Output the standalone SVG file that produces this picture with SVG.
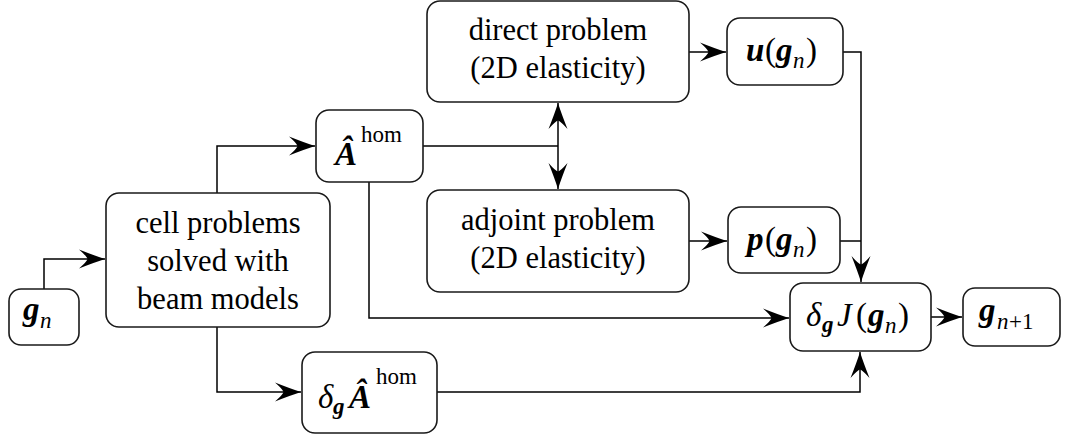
<svg xmlns="http://www.w3.org/2000/svg" width="1065" height="437" viewBox="0 0 1065 437">
<style>
.box{fill:#fff;stroke:#1a1a1a;stroke-width:1.6}
.t{font-size:30.5px;fill:#000;text-anchor:middle}
.m{font-size:33px;fill:#000}
.bi{font-weight:bold;font-style:italic}
.it{font-style:italic}
.s{font-size:23px}
.c{fill:none;stroke:#000;stroke-width:1.5}
</style>
<defs>
<marker id="ah" markerUnits="userSpaceOnUse" viewBox="-27 -11 28 22" refX="0" refY="0" markerWidth="28" markerHeight="22" orient="auto">
<path d="M0,0 Q-11,-3.5 -26,-9.5 Q-18,-2.5 -17.5,0 Q-18,2.5 -26,9.5 Q-11,3.5 0,0 Z" fill="#000"/>
</marker>
</defs>
<g id="connectors">
<path class="c" d="M44,289 V259 H105" marker-end="url(#ah)"/>
<path class="c" d="M217,193 V146 H315" marker-end="url(#ah)"/>
<path class="c" d="M423,146 H558"/>
<path class="c" d="M558,146 V103" marker-end="url(#ah)"/>
<path class="c" d="M558,146 V189" marker-end="url(#ah)"/>
<path class="c" d="M369,182 V318 H789" marker-end="url(#ah)"/>
<path class="c" d="M217,327 V392 H301" marker-end="url(#ah)"/>
<path class="c" d="M437,392 H860 V352" marker-end="url(#ah)"/>
<path class="c" d="M689,52 H726" marker-end="url(#ah)"/>
<path class="c" d="M689,241 H727" marker-end="url(#ah)"/>
<path class="c" d="M843,52 H861 V282" marker-end="url(#ah)"/>
<path class="c" d="M840,241 H861"/>
<path class="c" d="M931,317 H962" marker-end="url(#ah)"/>
</g>
<g font-family="Liberation Serif, DejaVu Serif, serif">
<g id="gn">
<rect class="box" x="9" y="289" width="70" height="56" rx="12"/>
<text class="m bi" font-family="Liberation Serif" x="23" y="320">g</text>
<text class="m it s" font-family="Liberation Serif" x="40" y="328">n</text>
</g>
<g id="cell">
<rect class="box" x="106" y="193" width="224" height="134" rx="13"/>
<text class="t" font-family="Liberation Serif" x="218" y="233">cell problems</text>
<text class="t" font-family="Liberation Serif" x="218" y="271">solved with</text>
<text class="t" font-family="Liberation Serif" x="218" y="309">beam models</text>
</g>
<g id="Ahom">
<rect class="box" x="316" y="110" width="107" height="72" rx="13"/>
<text class="m bi" font-family="Liberation Serif" x="335" y="165">Â</text>
<text class="m s" font-family="Liberation Serif" x="361" y="142">hom</text>
</g>
<g id="direct">
<rect class="box" x="427" y="1" width="262" height="101" rx="13"/>
<text class="t" font-family="Liberation Serif" x="558" y="40">direct problem</text>
<text class="t" font-family="Liberation Serif" x="558" y="78">(2D elasticity)</text>
</g>
<g id="adjoint">
<rect class="box" x="427" y="190" width="262" height="102" rx="13"/>
<text class="t" font-family="Liberation Serif" x="558" y="230">adjoint problem</text>
<text class="t" font-family="Liberation Serif" x="558" y="268">(2D elasticity)</text>
</g>
<g id="u">
<rect class="box" x="727" y="18" width="116" height="67" rx="13"/>
<text class="m bi" font-family="Liberation Serif" x="746" y="61">u</text>
<text class="m" font-family="Liberation Serif" x="765" y="61">(</text>
<text class="m bi" font-family="Liberation Serif" x="776" y="61">g</text>
<text class="m it s" font-family="Liberation Serif" x="793" y="68">n</text>
<text class="m" font-family="Liberation Serif" x="806" y="61">)</text>
</g>
<g id="p">
<rect class="box" x="728" y="207" width="112" height="66" rx="13"/>
<text class="m bi" font-family="Liberation Serif" x="747" y="250">p</text>
<text class="m" font-family="Liberation Serif" x="765" y="250">(</text>
<text class="m bi" font-family="Liberation Serif" x="776" y="250">g</text>
<text class="m it s" font-family="Liberation Serif" x="793" y="257">n</text>
<text class="m" font-family="Liberation Serif" x="806" y="250">)</text>
</g>
<g id="dJ">
<rect class="box" x="790" y="283" width="141" height="68" rx="13"/>
<text class="m it" font-family="Liberation Serif" x="806" y="326">δ</text>
<text class="m bi s" font-family="Liberation Serif" x="822" y="332">g</text>
<text class="m it" font-family="Liberation Serif" x="837" y="326">J</text>
<text class="m" font-family="Liberation Serif" x="856" y="326">(</text>
<text class="m bi" font-family="Liberation Serif" x="868" y="326">g</text>
<text class="m it s" font-family="Liberation Serif" x="885" y="333">n</text>
<text class="m" font-family="Liberation Serif" x="898" y="326">)</text>
</g>
<g id="gn1">
<rect class="box" x="963" y="288" width="97" height="58" rx="12"/>
<text class="m bi" font-family="Liberation Serif" x="979" y="321">g</text>
<text class="m it s" font-family="Liberation Serif" x="997" y="329">n</text>
<text class="m s" font-family="Liberation Serif" x="1009" y="329">+1</text>
</g>
<g id="dAhom">
<rect class="box" x="302" y="352" width="135" height="81" rx="13"/>
<text class="m it" font-family="Liberation Serif" x="318" y="408">δ</text>
<text class="m bi s" font-family="Liberation Serif" x="333" y="414">g</text>
<text class="m bi" font-family="Liberation Serif" x="349" y="408">Â</text>
<text class="m s" font-family="Liberation Serif" x="376" y="384">hom</text>
</g>
</g>
</svg>
